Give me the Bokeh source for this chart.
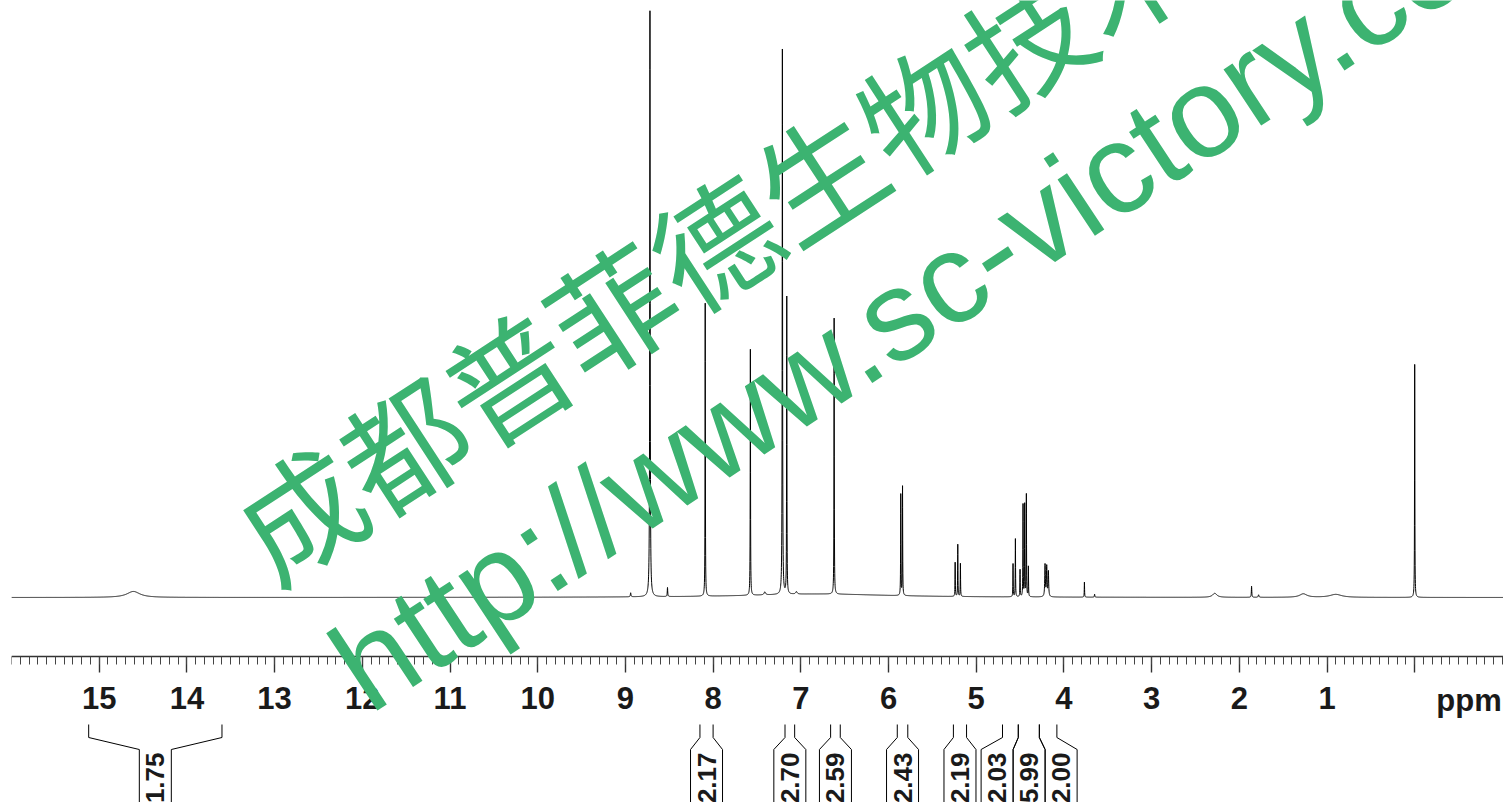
import math
import numpy as np
from bokeh.plotting import figure
from bokeh.models import Range1d, FixedTicker, Label, ColumnDataSource
from bokeh.embed import file_html
from bokeh.resources import INLINE
from bokeh.core.properties import value

# ---------------- data ----------------
# 1H NMR peak list: chemical shift (ppm), height (arbitrary units), half-width (ppm)
peak_ppm = [14.61, 8.94, 8.72, 8.52, 8.09, 7.575, 7.41, 7.21, 7.16, 7.05, 6.62,
            5.86, 5.84, 5.24, 5.21, 5.18,
            4.58, 4.553, 4.50, 4.466, 4.447, 4.428, 4.405,
            4.215, 4.196, 4.177, 3.766, 3.65, 2.28, 1.86, 1.78, 1.27, 0.90, 0.00,
            6.8]
peak_height = [6, 4, 586, 9, 293, 246, 3, 545, 297, 2.5, 276,
               101, 109, 34, 52, 33,
               33, 58, 27, 92, 92, 102, 30,
               32, 30, 25, 15, 3, 4, 11, 2.5, 3.5, 3, 233,
               3.5]
peak_hwhm = [0.09, 0.004, 0.003, 0.003, 0.002, 0.002, 0.01, 0.0025, 0.002, 0.01, 0.002,
             0.002, 0.002, 0.002, 0.002, 0.002,
             0.002, 0.002, 0.002, 0.002, 0.002, 0.002, 0.002,
             0.004, 0.004, 0.004, 0.002, 0.003, 0.03, 0.003, 0.005, 0.05, 0.08, 0.002,
             1.0]

# axis ticks
tick_values = [15, 14, 13, 12, 11, 10, 9, 8, 7, 6, 5, 4, 3, 2, 1, 0]
tick_labels = ["15", "14", "13", "12", "11", "10", "9", "8", "7", "6", "5", "4", "3", "2", "1", ""]

# integrals: region start / end (ppm) and value
integ_from = [15.12, 8.15, 7.18, 6.66, 5.90, 5.26, 4.70, 4.52, 4.28]
integ_to = [13.60, 8.00, 7.07, 6.55, 5.78, 5.11, 4.52, 4.28, 4.08]
integ_val = ["1.75", "2.17", "2.70", "2.59", "2.43", "2.19", "2.03", "5.99", "2.00"]

watermark_cn = "成都普菲德生物技术"
watermark_en = "http://www.sc-victory.com"

# ---------------- styling / layout ----------------
GREEN = "#3CB371"
TXT = "#1a1a1a"
PX_PER_PPM = 87.7
FRAME_W, FRAME_H = 1492, 802
PPM_LEFT = 16.0
PPM_RIGHT = PPM_LEFT - FRAME_W / PX_PER_PPM
Y_TOPV, Y_BOTV = 597, -205          # intensity range (1 unit = 1 px)
AXIS_AT = -59                        # axis line position in intensity units

# ---------------- spectrum curve from the peak list ----------------
grid = np.arange(PPM_LEFT, PPM_RIGHT, -0.001)
ppm = np.unique(np.concatenate([grid, np.array(peak_ppm)]))[::-1]
inten = np.zeros_like(ppm)
for c, h, g in zip(peak_ppm, peak_height, peak_hwhm):
    inten += h * g * g / (g * g + (ppm - c) ** 2)

p = figure(frame_width=FRAME_W, frame_height=FRAME_H,
           x_range=Range1d(PPM_LEFT, PPM_RIGHT), y_range=Range1d(Y_BOTV, Y_TOPV),
           y_axis_location=None, output_backend="svg", toolbar_location=None,
           min_border_left=11, min_border_right=0, min_border_top=0,
           min_border_bottom=0)
p.grid.visible = False
p.outline_line_color = None
p.background_fill_color = "white"
p.border_fill_color = "white"

p.line(ppm, inten, line_color="black", line_width=1)

ax = p.xaxis[0]
ax.fixed_location = AXIS_AT
minor = [round(PPM_LEFT - 0.1 * i, 1) for i in range(171)]
ax.ticker = FixedTicker(ticks=tick_values, minor_ticks=minor)
ax.major_label_overrides = {v: s for v, s in zip(tick_values, tick_labels)}
ax.axis_line_color = "#333333"
ax.axis_line_width = 1.6
ax.major_tick_in = 0
ax.major_tick_out = 16
ax.major_tick_line_color = "#333333"
ax.major_tick_line_width = 1.4
ax.minor_tick_in = 0
ax.minor_tick_out = 8
ax.minor_tick_line_color = "#444444"
ax.minor_tick_line_width = 1
ax.major_label_text_font = "Liberation Sans"
ax.major_label_text_font_style = "bold"
ax.major_label_text_font_size = "31px"
ax.major_label_text_color = TXT
ax.major_label_standoff = 14

p.add_layout(Label(x=-0.62, y=-103, text="ppm", text_align="center",
                   text_baseline="alphabetic", text_font="Liberation Sans",
                   text_font_style="bold", text_font_size="31px",
                   text_color=TXT))

# ---------------- integral brackets ----------------
box_w = 32.0 / PX_PER_PPM
centers = [(a + b) / 2 for a, b in zip(integ_from, integ_to)]
groups = [[c] for c in centers]
merged = True
while merged:
    merged = False
    for k in range(len(groups) - 1):
        a, b = groups[k], groups[k + 1]
        ma, mb = sum(a) / len(a), sum(b) / len(b)
        if (ma - (len(a) - 1) * box_w / 2) - (mb + (len(b) - 1) * box_w / 2) < box_w:
            groups[k] = a + b
            del groups[k + 1]
            merged = True
            break
box_pos = []
for g in groups:
    m = sum(g) / len(g)
    n = len(g)
    box_pos += [m + ((n - 1) / 2 - j) * box_w for j in range(n)]

Y_TOP, Y_KNEE, Y_BOX, Y_END = -127, -140, -152, -230
xs, ys = [], []
for f, t, c in zip(integ_from, integ_to, box_pos):
    bl, br = c + box_w / 2, c - box_w / 2
    xs.append([bl, bl, f, f]); ys.append([Y_END, Y_BOX, Y_KNEE, Y_TOP])
    xs.append([t, t, br, br]); ys.append([Y_TOP, Y_KNEE, Y_BOX, Y_END])
p.multi_line(xs, ys, line_color="black", line_width=1)

src = ColumnDataSource(dict(x=box_pos, y=[-155] * len(box_pos), t=integ_val))
p.text(x="x", y="y", text="t", source=src, angle=math.pi / 2,
       text_align="right", text_baseline="middle",
       text_font=value("Liberation Sans"), text_font_style="bold",
       text_font_size="26px", text_color=TXT)

# ---------------- watermark ----------------
p.add_layout(Label(x=8.0, y=359, text=watermark_cn, angle=math.radians(33.1),
                   text_align="center", text_baseline="middle",
                   text_font="Noto Sans CJK SC", text_font_size="124px",
                   text_color=GREEN))
p.add_layout(Label(x=5.373, y=315, text=watermark_en, angle=math.radians(33.5),
                   text_align="center", text_baseline="alphabetic",
                   text_font="Liberation Sans", text_font_size="128px",
                   text_color=GREEN))

open("out.html", "w").write(file_html(p, INLINE))
